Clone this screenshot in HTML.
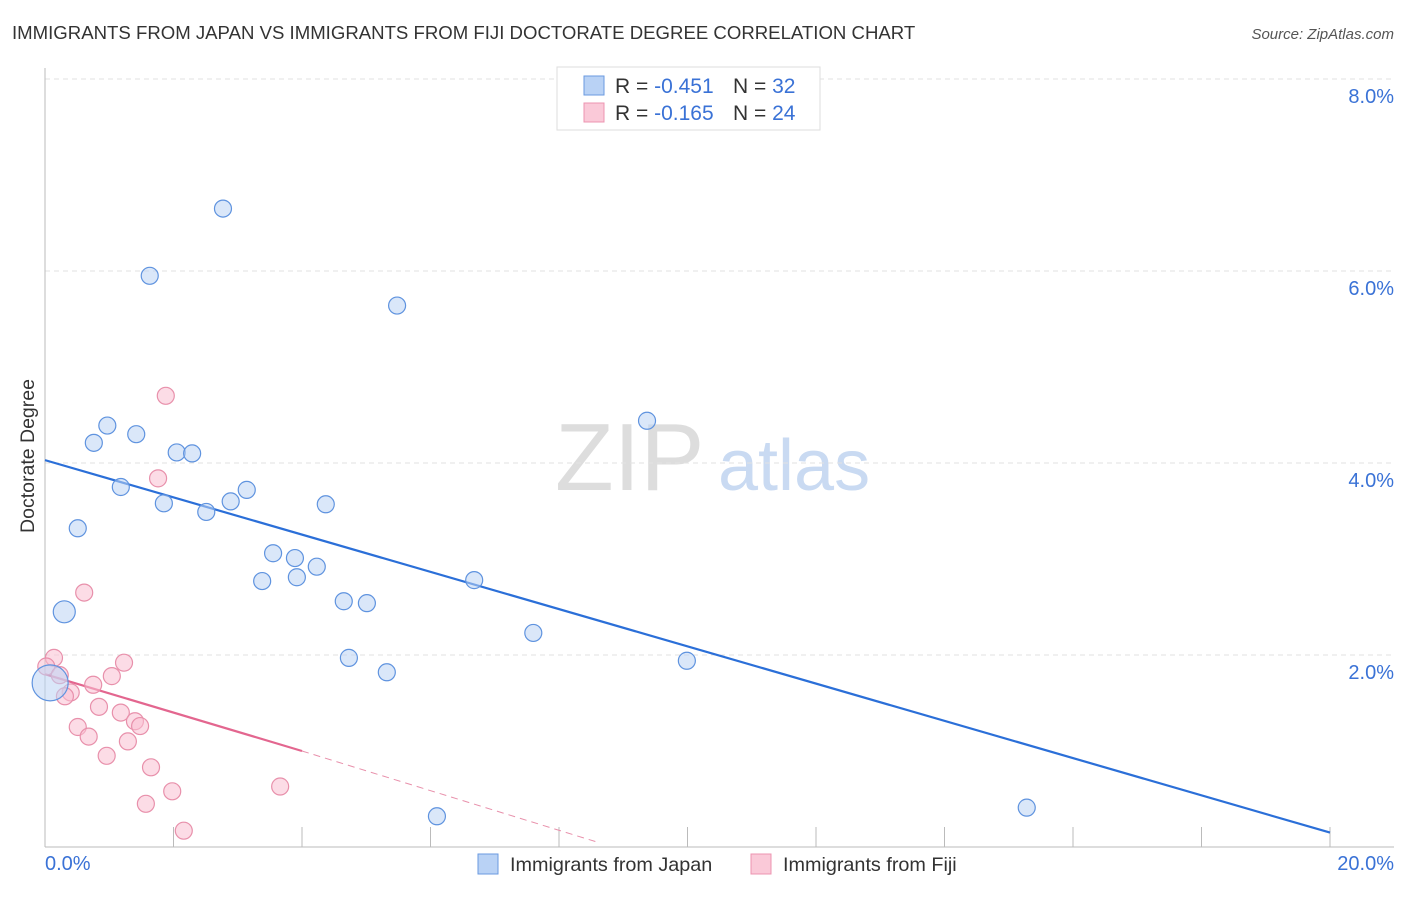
<!DOCTYPE html>
<html><head><meta charset="utf-8"><style>
body{margin:0;background:#fff;font-family:"Liberation Sans",sans-serif;}
svg text{font-family:"Liberation Sans",sans-serif;}
</style></head><body>
<svg id="chart" width="1406" height="892">
<text x="12" y="39" font-size="18.6" fill="#333">IMMIGRANTS FROM JAPAN VS IMMIGRANTS FROM FIJI DOCTORATE DEGREE CORRELATION CHART</text>
<text x="1394" y="39" font-size="15" fill="#555" font-style="italic" text-anchor="end">Source: ZipAtlas.com</text>
<text x="34" y="456" font-size="19.5" fill="#333" text-anchor="middle" transform="rotate(-90 34 456)">Doctorate Degree</text>
<g><text x="555" y="490" font-size="96" fill="#ddd" font-family="Liberation Serif">ZIP</text><text x="718" y="490" font-size="72" fill="#c9daf2">atlas</text></g>
<g id="grid"></g><g id="axes"></g><g id="trend"></g><g id="pts"></g>
<g>
<rect x="557" y="67" width="263" height="63" fill="#fff" stroke="#ddd"/>
<rect x="584" y="76" width="20" height="19" fill="#b9d2f5" stroke="#6a9ae0"/>
<rect x="584" y="103" width="20" height="19" fill="#fac9d8" stroke="#ec94b0"/>
<text x="615" y="93" font-size="21" fill="#333">R = <tspan fill="#3a72d6">-0.451</tspan><tspan x="733">N = </tspan><tspan fill="#3a72d6">32</tspan></text>
<text x="615" y="120" font-size="21" fill="#333">R = <tspan fill="#3a72d6">-0.165</tspan><tspan x="733">N = </tspan><tspan fill="#3a72d6">24</tspan></text>
</g>
<g>
<rect x="478" y="854" width="20" height="20" fill="#b9d2f5" stroke="#6a9ae0"/>
<text x="510" y="871" font-size="19.8" fill="#333">Immigrants from Japan</text>
<rect x="751" y="854" width="20" height="20" fill="#fac9d8" stroke="#ec94b0"/>
<text x="783" y="871" font-size="19.8" fill="#333">Immigrants from Fiji</text>
</g>
</svg>
<script>
const yTicks=[2,4,6,8];
const yTickLabels=["2.0%","4.0%","6.0%","8.0%"];
const xTickLabels=["0.0%","20.0%"];
const japanX=[2.77,1.63,5.48,9.37,0.97,1.42,0.76,2.05,2.29,1.18,3.14,2.89,1.85,4.37,2.51,0.51,3.55,3.89,3.92,4.23,3.38,6.68,0.30,4.65,5.01,7.60,4.73,9.99,5.32,15.28,6.10,0.08];
const japanY=[6.65,5.95,5.64,4.44,4.39,4.30,4.21,4.11,4.10,3.75,3.72,3.60,3.58,3.57,3.49,3.32,3.06,3.01,2.81,2.92,2.77,2.78,2.45,2.56,2.54,2.23,1.97,1.94,1.82,0.41,0.32,1.71];
const japanR=[8.5,8.5,8.5,8.5,8.5,8.5,8.5,8.5,8.5,8.5,8.5,8.5,8.5,8.5,8.5,8.5,8.5,8.5,8.5,8.5,8.5,8.5,11,8.5,8.5,8.5,8.5,8.5,8.5,8.5,8.5,18];
const fijiX=[1.88,1.76,0.61,0.14,0.02,0.23,1.23,1.04,0.75,0.40,0.31,0.84,1.18,1.40,1.48,0.51,0.68,1.29,0.96,1.65,3.66,1.98,1.57,2.16];
const fijiY=[4.70,3.84,2.65,1.97,1.88,1.79,1.92,1.78,1.69,1.61,1.57,1.46,1.40,1.31,1.26,1.25,1.15,1.10,0.95,0.83,0.63,0.58,0.45,0.17];
const japanTrend=[0,4.03,20,0.15];
const fijiTrend=[0,1.80,4,1.00,8.6,0.05];
const X=v=>45+v*64.25, Y=v=>847-v*96;
const NS="http://www.w3.org/2000/svg";
function mk(p,t,a){const e=document.createElementNS(NS,t);for(const k in a)e.setAttribute(k,a[k]);document.getElementById(p).appendChild(e);return e;}
yTicks.forEach((t,i)=>{
 const l=mk('grid','line',{x1:45,x2:1394,y1:Y(t),y2:Y(t),stroke:'#e2e2e2','stroke-dasharray':'5,4'});
 
 
 const tx=mk('grid','text',{x:1394,y:Y(t)+24,'font-size':20,fill:'#3a72d6','text-anchor':'end'});
 tx.textContent=yTickLabels[i];
 
 
});
const ax=mk('axes','line',{x1:45,x2:45,y1:68,y2:847,stroke:'#bbb'});


const bx=mk('axes','line',{x1:45,x2:1394,y1:847,y2:847,stroke:'#bbb'});


for(let i=1;i<=10;i++){const t=mk('axes','line',{x1:X(i*2),x2:X(i*2),y1:827,y2:847,stroke:'#bbb'});
 
 }
[[0,'start',45],[20,'end',1394]].forEach((d,i)=>{const t=mk('axes','text',{x:d[2],y:870,'font-size':20,fill:'#3a72d6','text-anchor':d[1]});t.textContent=xTickLabels[i];
 
 });
function pts(xs,ys,rs,f,s,n){xs.forEach((x,i)=>{const c=mk('pts','circle',{cx:X(x),cy:Y(ys[i]),r:rs?rs[i]:8.5,fill:f,'fill-opacity':0.55,stroke:s,'stroke-width':1.2});
 
 });}
pts(fijiX,fijiY,null,'#fac0d2','#e890ab','point-fiji');
pts(japanX,japanY,japanR,'#bcd4f4','#5f93df','point-japan');
const jl=mk('trend','line',{x1:X(japanTrend[0]),y1:Y(japanTrend[1]),x2:X(japanTrend[2]),y2:Y(japanTrend[3]),stroke:'#2b6fd8','stroke-width':2.2});


const fl=mk('trend','line',{x1:X(fijiTrend[0]),y1:Y(fijiTrend[1]),x2:X(fijiTrend[2]),y2:Y(fijiTrend[3]),stroke:'#e3668f','stroke-width':2.2});


const fd=mk('trend','line',{x1:X(fijiTrend[2]),y1:Y(fijiTrend[3]),x2:X(fijiTrend[4]),y2:Y(fijiTrend[5]),stroke:'#e890ab','stroke-width':1,'stroke-dasharray':'7,5'});


</script>
</body></html>
